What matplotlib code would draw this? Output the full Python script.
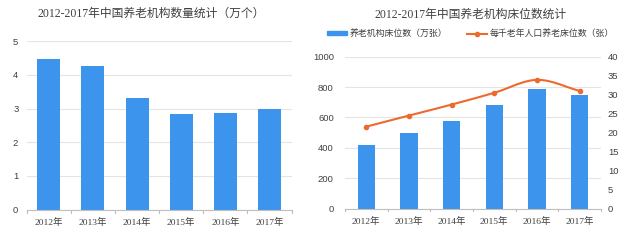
import matplotlib
matplotlib.use("Agg")
import matplotlib.pyplot as plt
from matplotlib.lines import Line2D
from matplotlib.patches import Patch
import numpy as np

years = ["2012年", "2013年", "2014年", "2015年", "2016年", "2017年"]
institutions = [4.46, 4.27, 3.32, 2.84, 2.88, 2.98]          # 万个
beds = [419, 497, 580, 680, 785, 750]                        # 万张
beds_per_k = [21.6, 24.5, 27.4, 30.5, 33.9, 31.0]            # 张

BLUE = "#3d94ec"
ORANGE = "#ec6a2c"
GRID = "#e4e4e4"
AXC = "#bfbfbf"
TXT = "#404040"
serif = ["Liberation Serif", "Noto Sans CJK SC"]
sans = ["Liberation Sans", "Noto Sans CJK SC"]
plt.rcParams["font.family"] = ["Noto Sans CJK SC", "DejaVu Sans"]

fig = plt.figure(figsize=(6.4, 2.44), dpi=100)

def style(ax, ypad):
    for s in ["top", "right", "left"]:
        ax.spines[s].set_visible(False)
    ax.spines["bottom"].set_color(AXC)
    ax.yaxis.grid(True, color=GRID, lw=0.8)
    ax.set_axisbelow(True)
    ax.tick_params(axis="y", length=0, labelsize=6.8, colors=TXT, pad=ypad)
    ax.tick_params(axis="x", length=0, labelsize=6.8, colors=TXT, pad=6)
    for lab in ax.get_xticklabels():
        lab.set_family(serif)
    for lab in ax.get_yticklabels():
        lab.set_family(sans)

def boundary_ticks(ax, n):
    ax.set_xlim(-0.5, n - 0.5)
    for b in np.arange(-0.5, n, 1.0):
        ax.plot([b, b], [0, -0.018], transform=ax.get_xaxis_transform(),
                color=AXC, lw=0.8, clip_on=False)

# left chart
x = np.arange(len(years))
ax1 = fig.add_axes([0.0417, 0.1406, 0.414, 0.691])
ax1.bar(x, institutions, width=0.52, color=BLUE, zorder=2)
ax1.set_ylim(0, 5)
ax1.set_yticks(range(0, 6))
ax1.set_xticks(x)
ax1.set_xticklabels(years)
style(ax1, 6)
boundary_ticks(ax1, len(years))
fig.text(0.237, 0.945, "2012-2017年中国养老机构数量统计（万个）", ha="center", va="center",
         fontsize=8.5, color=TXT, family=serif)

# right chart
ax2 = fig.add_axes([0.539, 0.1447, 0.400, 0.623])
ax2.bar(x, beds, width=0.41, color=BLUE, zorder=2)
ax2.set_ylim(0, 1000)
ax2.set_yticks(range(0, 1001, 200))
ax2.set_xticks(x)
ax2.set_xticklabels(years)
style(ax2, 8)
boundary_ticks(ax2, len(years))

ax3 = ax2.twinx()
ax3.set_ylim(0, 40)
ax3.set_yticks(range(0, 41, 5))
for s in ax3.spines.values():
    s.set_visible(False)
ax3.tick_params(axis="y", length=0, labelsize=6.8, colors=TXT, pad=5)
for lab in ax3.get_yticklabels():
    lab.set_family(sans)

# smooth curve through points (Catmull-Rom)
px = np.array(x, dtype=float)
py = np.array(beds_per_k, dtype=float)
P = np.column_stack([px, py])
Pext = np.vstack([2 * P[0] - P[1], P, 2 * P[-1] - P[-2]])
curve = []
for i in range(1, len(Pext) - 2):
    p0, p1, p2, p3 = Pext[i - 1], Pext[i], Pext[i + 1], Pext[i + 2]
    for t in np.linspace(0, 1, 20):
        c = 0.5 * ((2 * p1) + (-p0 + p2) * t + (2 * p0 - 5 * p1 + 4 * p2 - p3) * t ** 2
                   + (-p0 + 3 * p1 - 3 * p2 + p3) * t ** 3)
        curve.append(c)
curve = np.array(curve)
ax3.plot(curve[:, 0], curve[:, 1], color=ORANGE, lw=1.5, zorder=3)
ax3.plot(px, py, "o", color=ORANGE, ms=3, zorder=4)

fig.text(0.735, 0.94, "2012-2017年中国养老机构床位数统计", ha="center", va="center",
         fontsize=8.5, color=TXT, family=serif)
handles = [Patch(color=BLUE),
           Line2D([0], [0], color=ORANGE, lw=1.5, marker="o", ms=3)]
fig.legend(handles, ["养老机构床位数（万张）", "每千老年人口养老床位数（张）"],
           loc="center", bbox_to_anchor=(0.735, 0.862), ncol=2, frameon=False,
           fontsize=6.4, handlelength=2.2, handleheight=0.35, columnspacing=2.3,
           handletextpad=0.3, labelcolor=TXT)

fig.savefig("out.png", dpi=100, facecolor="white")
